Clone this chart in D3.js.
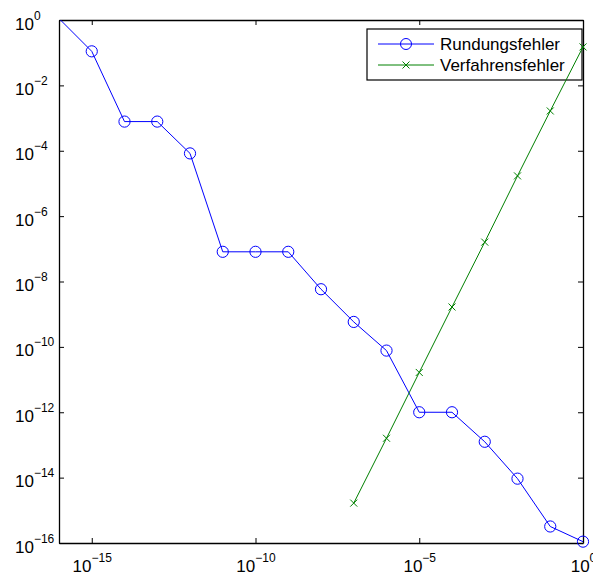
<!DOCTYPE html>
<html>
<head>
<meta charset="utf-8">
<script src="https://cdn.jsdelivr.net/npm/d3@7"></script>
<style>
  body { margin: 0; background: #fff; }
  svg { font-family: "Liberation Sans", Arial, sans-serif; }
</style>
</head>
<body>
<svg id="chart" width="593" height="579"></svg>
<script>
// Schrittweiten h und Fehler
const hRund = [1e-16, 1e-15, 1e-14, 1e-13, 1e-12, 1e-11, 1e-10, 1e-9, 1e-8, 1e-7, 1e-6, 1e-5, 1e-4, 1e-3, 1e-2, 1e-1, 1e0];
const rundungsfehler = [1.11, 1.1e-1, 7.8e-4, 7.8e-4, 8.3e-5, 8.1e-8, 8.1e-8, 8.1e-8, 5.8e-9, 5.8e-10, 7.7e-11, 1.0e-12, 1.0e-12, 1.25e-13, 9.3e-15, 3.2e-16, 1.1e-16];
const hVerf = [1e-7, 1e-6, 1e-5, 1e-4, 1e-3, 1e-2, 1e-1, 1e0];
const verfahrensfehler = [1.66e-15, 1.6e-13, 1.65e-11, 1.66e-9, 1.6e-7, 1.7e-5, 1.65e-3, 1.5e-1];
const xTicks = [1e-15, 1e-10, 1e-5, 1e0];
const yTicks = [1e0, 1e-2, 1e-4, 1e-6, 1e-8, 1e-10, 1e-12, 1e-14, 1e-16];
const seriesNames = ["Rundungsfehler", "Verfahrensfehler"];

const svg = d3.select("#chart"),
      margin = {top: 20, right: 10, bottom: 36, left: 59},
      width = +svg.attr("width") - margin.left - margin.right,
      height = +svg.attr("height") - margin.top - margin.bottom;

const g = svg.append("g").attr("transform", `translate(${margin.left},${margin.top})`);

const x = d3.scaleLog().domain([1e-16, 1]).range([0, width]);
const y = d3.scaleLog().domain([1e-16, 1]).range([height, 0]);

const expo = d => {
  const e = Math.round(Math.log10(d));
  return e < 0 ? "\u2212" + (-e) : String(e);
};

// Beschriftung 10^n
function supLabel(sel, baseDy, supDy) {
  sel.each(function(d) {
    const t = d3.select(this);
    t.text(null).attr("dy", null).attr("fill", "#000");
    t.append("tspan").attr("dy", baseDy).attr("font-size", "17px").text("10");
    t.append("tspan").attr("dy", supDy).attr("font-size", "12px").text(expo(d));
  });
}

// Achsen
const xAxis = g.append("g")
  .attr("transform", `translate(0,${height})`)
  .call(d3.axisBottom(x).tickValues(xTicks).tickSizeInner(-5).tickSizeOuter(0).tickPadding(0));
xAxis.selectAll(".tick text").call(supLabel, 29, -10.5);

const yAxis = g.append("g")
  .call(d3.axisLeft(y).tickValues(yTicks).tickSizeInner(-5).tickSizeOuter(0));
// MATLAB: "10" links ausgerichtet
yAxis.selectAll(".tick text")
  .attr("x", -44).attr("text-anchor", "start")
  .call(supLabel, 9, -10);
yAxis.attr("text-anchor", "start");

g.append("g")
  .call(d3.axisTop(x).tickValues(xTicks).tickSizeInner(-5).tickSizeOuter(0).tickFormat(""));
g.append("g")
  .attr("transform", `translate(${width},0)`)
  .call(d3.axisRight(y).tickValues(yTicks).tickSizeInner(-5).tickSizeOuter(0).tickFormat(""));

g.selectAll(".domain").attr("stroke", "#000").attr("stroke-width", 1.3);
g.selectAll(".tick line").attr("stroke", "#000");
g.selectAll(".tick text").attr("font-family", "\"Liberation Sans\", Arial, sans-serif");

// Legende
const leg = g.append("g").attr("transform", "translate(308,9)");
leg.append("rect")
  .attr("width", 215).attr("height", 51)
  .attr("fill", "#fff").attr("stroke", "#000").attr("stroke-width", 1.2);
const legColors = ["#0000ff", "#008000"];
seriesNames.forEach((name, i) => {
  const cy = 15 + i * 21;
  leg.append("line").attr("x1", 11).attr("x2", 67).attr("y1", cy).attr("y2", cy)
    .attr("stroke", legColors[i]).attr("stroke-width", 1);
  if (i === 0) {
    leg.append("circle").attr("cx", 39).attr("cy", cy).attr("r", 5.5)
      .attr("fill", "none").attr("stroke", legColors[i]);
  } else {
    leg.append("path").attr("d", `M${35.5},${cy - 3.5}L${42.5},${cy + 3.5}M${35.5},${cy + 3.5}L${42.5},${cy - 3.5}`)
      .attr("stroke", legColors[i]).attr("fill", "none");
  }
  leg.append("text").attr("x", 73).attr("y", cy + 6)
    .attr("font-size", "17px").attr("fill", "#000").text(name);
});

// Clip
g.append("clipPath").attr("id", "clip")
  .append("rect").attr("width", width).attr("height", height);

const line = d3.line().x(d => x(d[0])).y(d => y(d[1]));
const inside = d => d[0] >= 1e-16 && d[0] <= 1 && d[1] >= 1e-16 && d[1] <= 1;

const rund = hRund.map((h, i) => [h, rundungsfehler[i]]);
const verf = hVerf.map((h, i) => [h, verfahrensfehler[i]]);

g.append("path").datum(rund).attr("clip-path", "url(#clip)")
  .attr("d", line).attr("fill", "none").attr("stroke", "#0000ff").attr("stroke-width", 1);
g.selectAll("circle.rund").data(rund.filter(inside)).enter().append("circle")
  .attr("class", "rund")
  .attr("cx", d => x(d[0])).attr("cy", d => y(d[1])).attr("r", 5.6)
  .attr("fill", "none").attr("stroke", "#0000ff").attr("stroke-width", 1);

g.append("path").datum(verf).attr("clip-path", "url(#clip)")
  .attr("d", line).attr("fill", "none").attr("stroke", "#008000").attr("stroke-width", 1);
g.selectAll("path.verf").data(verf.filter(inside)).enter().append("path")
  .attr("class", "verf")
  .attr("d", d => {
    const cx = x(d[0]), cy = y(d[1]);
    return `M${cx - 3.5},${cy - 3.5}L${cx + 3.5},${cy + 3.5}M${cx - 3.5},${cy + 3.5}L${cx + 3.5},${cy - 3.5}`;
  })
  .attr("fill", "none").attr("stroke", "#008000").attr("stroke-width", 1);
</script>
</body>
</html>
